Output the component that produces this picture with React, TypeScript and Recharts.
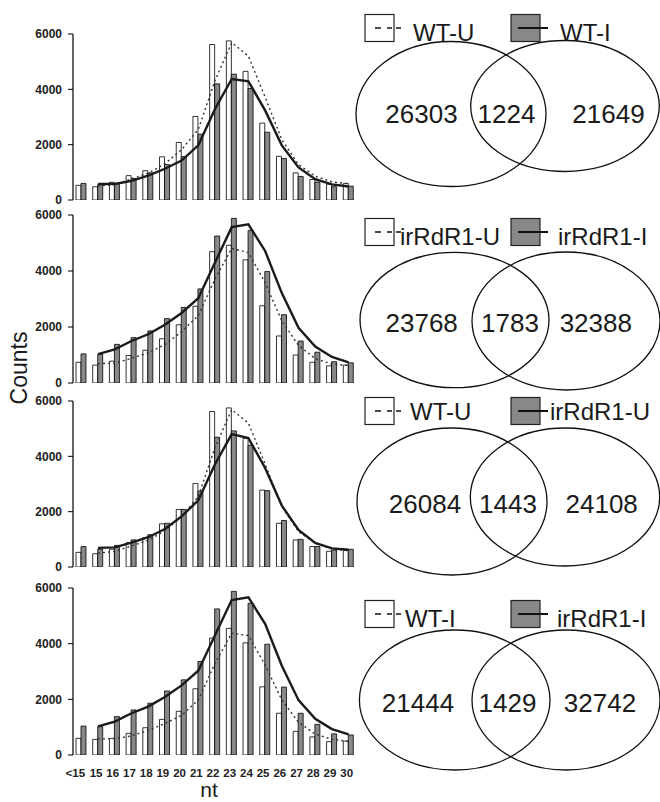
import React from 'react';
import { ComposedChart, Bar, Line, XAxis, YAxis, ScatterChart, Scatter } from 'recharts';

const FONT = '"Liberation Sans", Arial, Helvetica, sans-serif';

// read length classes (nt)
const categories = ['<15', '15', '16', '17', '18', '19', '20', '21', '22', '23', '24', '25', '26', '27', '28', '29', '30'];

// read counts per library
const wtU = [530, 480, 640, 880, 1060, 1560, 2080, 3020, 5620, 5750, 4650, 2780, 1580, 980, 740, 570, 600];
const wtI = [600, 560, 600, 780, 980, 1280, 1570, 2380, 4200, 4550, 4030, 2450, 1500, 850, 650, 480, 500];
const rdU = [740, 640, 780, 980, 1170, 1580, 2080, 2740, 4690, 4920, 4400, 2760, 1680, 1000, 740, 610, 640];
const rdI = [1040, 1020, 1380, 1620, 1860, 2300, 2700, 3360, 5250, 5880, 5450, 3980, 2440, 1500, 1100, 760, 720];

// trend lines (they begin at "15")
const wtUTrend = [null, 505, 560, 760, 970, 1310, 1820, 2550, 4320, 5690, 5200, 3720, 2180, 1280, 860, 655, 585];
const wtITrend = [null, 580, 580, 690, 880, 1130, 1425, 1975, 3290, 4375, 4290, 3240, 1975, 1175, 750, 565, 490];
const rdUTrend = [null, 690, 710, 880, 1075, 1375, 1830, 2410, 3715, 4805, 4660, 3580, 2220, 1340, 870, 675, 625];
const rdITrend = [null, 1030, 1200, 1500, 1740, 2080, 2500, 3030, 4305, 5565, 5665, 4715, 3210, 1970, 1300, 930, 740];

const yTicks = [0, 2000, 4000, 6000];

// venn diagrams: [left only, shared, right only]
const vennNames = [
  ['WT-U', 'WT-I'],
  ['irRdR1-U', 'irRdR1-I'],
  ['WT-U', 'irRdR1-U'],
  ['WT-I', 'irRdR1-I'],
];
const vennCounts = [
  [26303, 1224, 21649],
  [23768, 1783, 32388],
  [26084, 1443, 24108],
  [21444, 1429, 32742],
];

const panels = [
  { white: wtU, gray: wtI, whiteTrend: wtUTrend, grayTrend: wtITrend },
  { white: rdU, gray: rdI, whiteTrend: rdUTrend, grayTrend: rdITrend },
  { white: wtU, gray: rdU, whiteTrend: wtUTrend, grayTrend: rdUTrend },
  { white: wtI, gray: rdI, whiteTrend: wtITrend, grayTrend: rdITrend },
];

// layout (page pixels)
const plotLayout = [
  { top: 34, h: 166 },
  { top: 215, h: 168 },
  { top: 401, h: 166 },
  { top: 588, h: 167 },
];

const vennLayout = [
  {
    top: 0, h: 192,
    ellipses: [{ x: 451, y: 114, rx: 95, ry: 72.5 }, { x: 565, y: 106, rx: 94.3, ry: 65.5 }],
    labelX: [421.5, 506.5, 608.5], labelY: 123,
    boxY: 28, textY: 41, textX: [413, 560],
  },
  {
    top: 200, h: 195,
    ellipses: [{ x: 454.5, y: 320, rx: 94.5, ry: 67.7 }, { x: 566, y: 321, rx: 94, ry: 69 }],
    labelX: [421.7, 510, 595.8], labelY: 332,
    boxY: 232, textY: 245, textX: [400, 558],
  },
  {
    top: 392, h: 190,
    ellipses: [{ x: 452, y: 501.5, rx: 95, ry: 73.5 }, { x: 565, y: 497, rx: 94.7, ry: 69 }],
    labelX: [425, 508, 601.7], labelY: 513,
    boxY: 411, textY: 420, textX: [410, 550],
  },
  {
    top: 590, h: 190,
    ellipses: [{ x: 454.7, y: 700, rx: 95.3, ry: 70 }, { x: 566, y: 700, rx: 94, ry: 70 }],
    labelX: [418, 507.5, 600], labelY: 712,
    boxY: 614, textY: 627, textX: [405, 557],
  },
];

const edgeTicks = [...categories.map((_, i) => i), categories.length];

const EllipseShape = (props: any) => {
  const { cx, cy, payload } = props;
  return <ellipse cx={cx} cy={cy} rx={payload.rx} ry={payload.ry} fill="none" stroke="#111" strokeWidth={1.3} />;
};

const CountShape = (props: any) => {
  const { cx, cy, payload } = props;
  return (
    <text x={cx} y={cy} textAnchor="middle" fontSize={26} fill="#1a1a1a" fontFamily={FONT}>
      {payload.label}
    </text>
  );
};

// x labels sit a little left of the band centres, "<15" more so
const NtTick = (props: any) => {
  const { x, y, payload, index } = props;
  return (
    <text x={x + (index === 0 ? -6 : -2)} y={y} dy="0.71em" textAnchor="middle" fontSize={11.5} fontWeight="bold" fill="#222" fontFamily={FONT}>
      {payload.value}
    </text>
  );
};

function BarPanel({ index }: { index: number }) {
  const p = panels[index];
  const lay = plotLayout[index];
  const showLabels = index === panels.length - 1;
  const data = categories.map((nt, i) => ({
    nt,
    white: p.white[i],
    gray: p.gray[i],
    wTrend: p.whiteTrend[i],
    gTrend: p.grayTrend[i],
  }));

  return (
    <div style={{ position: 'absolute', left: 0, top: lay.top - 10 }}>
      <ComposedChart width={360} height={10 + lay.h + 25} data={data} margin={{ top: 10, right: 3, bottom: 0, left: 0 }} barGap={0}>
        <XAxis
          xAxisId="edge"
          type="number"
          domain={[0, categories.length]}
          ticks={edgeTicks}
          allowDataOverflow
          tick={false}
          tickSize={5}
          height={0}
          axisLine={{ stroke: '#000', strokeWidth: 1.2 }}
          tickLine={{ stroke: '#000', strokeWidth: 1 }}
        />
        <XAxis
          xAxisId="cat"
          dataKey="nt"
          interval={0}
          axisLine={false}
          tickLine={false}
          tickSize={6}
          tickMargin={8}
          height={25}
          tick={showLabels ? <NtTick /> : false}
        />
        <YAxis
          width={73}
          domain={[0, 6000]}
          ticks={yTicks}
          allowDataOverflow
          tickSize={5}
          tickMargin={6}
          axisLine={{ stroke: '#000', strokeWidth: 1.2 }}
          tickLine={{ stroke: '#000', strokeWidth: 1 }}
          tick={{ fontSize: 12, fontWeight: 'bold', fill: '#222', fontFamily: FONT }}
        />
        <Bar xAxisId="cat" dataKey="white" barSize={5} fill="#ffffff" stroke="#000" strokeWidth={0.8} isAnimationActive={false} />
        <Bar xAxisId="cat" dataKey="gray" barSize={5} fill="#888888" stroke="#000" strokeWidth={0.8} isAnimationActive={false} />
        <Line xAxisId="cat" type="linear" dataKey="wTrend" stroke="#333" strokeWidth={1.4} strokeDasharray="2 3" dot={false} isAnimationActive={false} />
        <Line xAxisId="cat" type="linear" dataKey="gTrend" stroke="#1a1a1a" strokeWidth={2.4} dot={false} isAnimationActive={false} />
      </ComposedChart>
    </div>
  );
}

function VennPanel({ index }: { index: number }) {
  const v = vennLayout[index];
  const counts = vennCounts[index];
  const labels = counts.map((c, i) => ({ x: v.labelX[i], y: v.labelY, label: String(c) }));
  return (
    <div style={{ position: 'absolute', left: 355, top: v.top }}>
      <ScatterChart width={305} height={v.h} margin={{ top: 0, right: 0, bottom: 0, left: 0 }}>
        <XAxis type="number" dataKey="x" domain={[355, 660]} allowDataOverflow hide />
        <YAxis type="number" dataKey="y" domain={[v.top, v.top + v.h]} allowDataOverflow reversed hide />
        <Scatter data={v.ellipses} shape={EllipseShape} isAnimationActive={false} />
        <Scatter data={labels} shape={CountShape} isAnimationActive={false} />
      </ScatterChart>
    </div>
  );
}

function Legend({ index }: { index: number }) {
  const v = vennLayout[index];
  const names = vennNames[index];
  const bh = 27;
  return (
    <g>
      <rect x={365} y={v.boxY - bh / 2} width={29} height={bh} fill="#fff" stroke="#222" strokeWidth={1.2} />
      <line x1={375} x2={401} y1={v.boxY} y2={v.boxY} stroke="#111" strokeWidth={1.6} strokeDasharray="6,6,5,4,6" />
      <text x={v.textX[0]} y={v.textY} fontSize={24} fill="#1a1a1a">{names[0]}</text>
      <rect x={511} y={v.boxY - bh / 2} width={29} height={bh} fill="#888888" stroke="#222" strokeWidth={1.2} />
      <line x1={518} x2={548} y1={v.boxY} y2={v.boxY} stroke="#111" strokeWidth={2} />
      <text x={v.textX[1]} y={v.textY} fontSize={24} fill="#1a1a1a">{names[1]}</text>
    </g>
  );
}

export default function App() {
  return (
    <div style={{ position: 'absolute', left: 0, top: 0, width: 660, height: 802, background: '#fff', fontFamily: FONT, overflow: 'hidden' }}>
      {panels.map((_, i) => (
        <BarPanel key={'b' + i} index={i} />
      ))}
      {panels.map((_, i) => (
        <VennPanel key={'v' + i} index={i} />
      ))}
      <svg width={660} height={802} style={{ position: 'absolute', left: 0, top: 0, pointerEvents: 'none' }} fontFamily={FONT}>
        {panels.map((_, i) => (
          <Legend key={'l' + i} index={i} />
        ))}
        <text transform="translate(27, 368) rotate(-90)" textAnchor="middle" fontSize={23} fill="#1a1a1a">Counts</text>
        <text x={209} y={797} textAnchor="middle" fontSize={21} fill="#1a1a1a">nt</text>
      </svg>
    </div>
  );
}
